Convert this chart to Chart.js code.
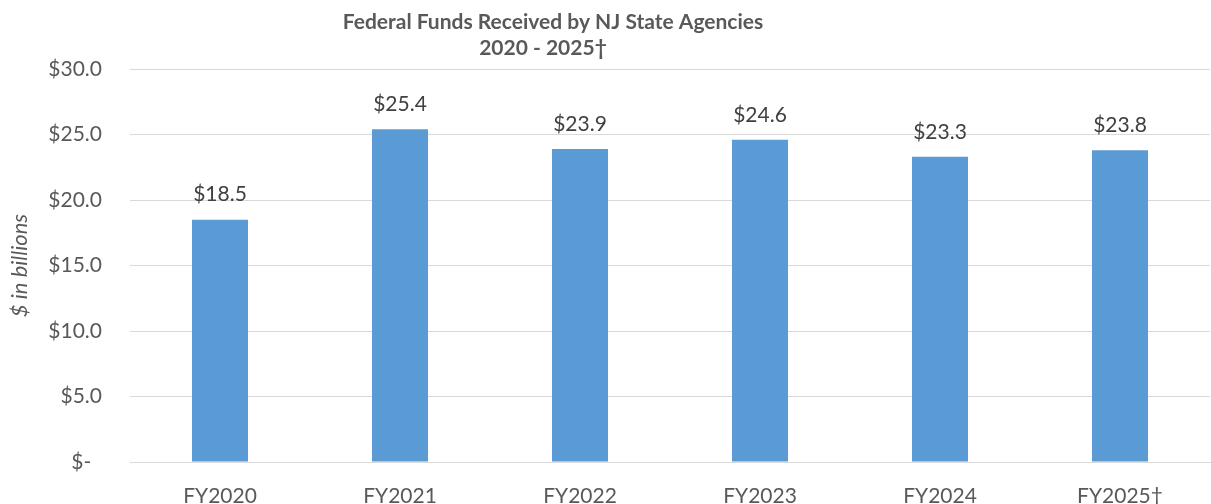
<!DOCTYPE html>
<html>
  <head>
    <meta charset="utf-8" />
    <title>Federal Funds Received by NJ State Agencies</title>
    <style>
        html, body {
            width: 100%;
            height: 100%;
            margin: 0;
            padding: 0;
            overflow: hidden;
            background: #fff;
        }
        #wrap { width: 1211px; height: 504px; position: relative; }
    </style>
  </head>
  <body>
    <script src="https://cdn.jsdelivr.net/npm/chart.js@4/dist/chart.umd.min.js"></script>
    <div id="wrap"><canvas id="chart"></canvas></div>

    <script>
        const years = ["FY2020", "FY2021", "FY2022", "FY2023", "FY2024", "FY2025\u2020"];
        const funds = [18.5, 25.4, 23.9, 24.6, 23.3, 23.8];
        const titleLines = ["Federal Funds Received by NJ State Agencies", "2020 - 2025\u2020"];

        const FONT = "Lato, 'Noto Sans', sans-serif";

        // title drawn in the space left above the chart area
        const titlePlugin = {
          id: "titleLines",
          afterDraw(chart) {
            const ctx = chart.ctx;
            ctx.save();
            ctx.fillStyle = "#595959";
            ctx.font = "bold 21px " + FONT;
            ctx.textAlign = "center";
            ctx.textBaseline = "middle";
            ctx.fillText(titleLines[0], 553, 22);
            ctx.fillText(titleLines[1], 543, 48);
            ctx.restore();
          }
        };

        // value labels above each bar
        const valueLabels = {
          id: "valueLabels",
          afterDatasetsDraw(chart) {
            const ctx = chart.ctx;
            const meta = chart.getDatasetMeta(0);
            ctx.save();
            ctx.fillStyle = "#404040";
            ctx.font = "21px " + FONT;
            ctx.textAlign = "center";
            ctx.textBaseline = "middle";
            meta.data.forEach((bar, i) => {
              ctx.fillText("$" + funds[i].toFixed(1), bar.x, bar.y - 25);
            });
            ctx.restore();
          }
        };

        const chart = new Chart("chart", {
          type: "bar",
          data: {
            labels: years,
            datasets: [{
              data: funds,
              backgroundColor: "#5B9BD5",
              borderWidth: 0,
              categoryPercentage: 1,
              barPercentage: 0.311
            }]
          },
          plugins: [titlePlugin, valueLabels],
          options: {
            responsive: true,
            maintainAspectRatio: false,
            animation: false,
            layout: { padding: { top: 69, right: 1, bottom: 0, left: 0 } },
            plugins: {
              legend: { display: false },
              title: { display: false },
              tooltip: { enabled: false }
            },
            scales: {
              x: {
                grid: { display: false },
                border: { display: true, color: "#D9D9D9", width: 1 },
                ticks: {
                  color: "#595959",
                  font: { family: FONT, size: 21 },
                  padding: 14,
                  maxRotation: 0
                },
                afterFit(scale) { scale.height = 42; }
              },
              y: {
                min: 0,
                max: 30,
                grid: { color: "#D9D9D9", lineWidth: 1, drawTicks: false },
                border: { display: false },
                ticks: {
                  stepSize: 5,
                  color: "#595959",
                  font: { family: FONT, size: 21 },
                  padding: 28,
                  callback: (v) => v === 0 ? "$-  " : "$" + v.toFixed(1)
                },
                title: {
                  display: true,
                  text: "$ in billions",
                  color: "#595959",
                  font: { family: FONT, size: 22, style: "italic" },
                  padding: { top: 7, bottom: 0 }
                },
                afterFit(scale) { scale.width = 130; }
              }
            }
          }
        });
    </script>
  </body>
</html>
